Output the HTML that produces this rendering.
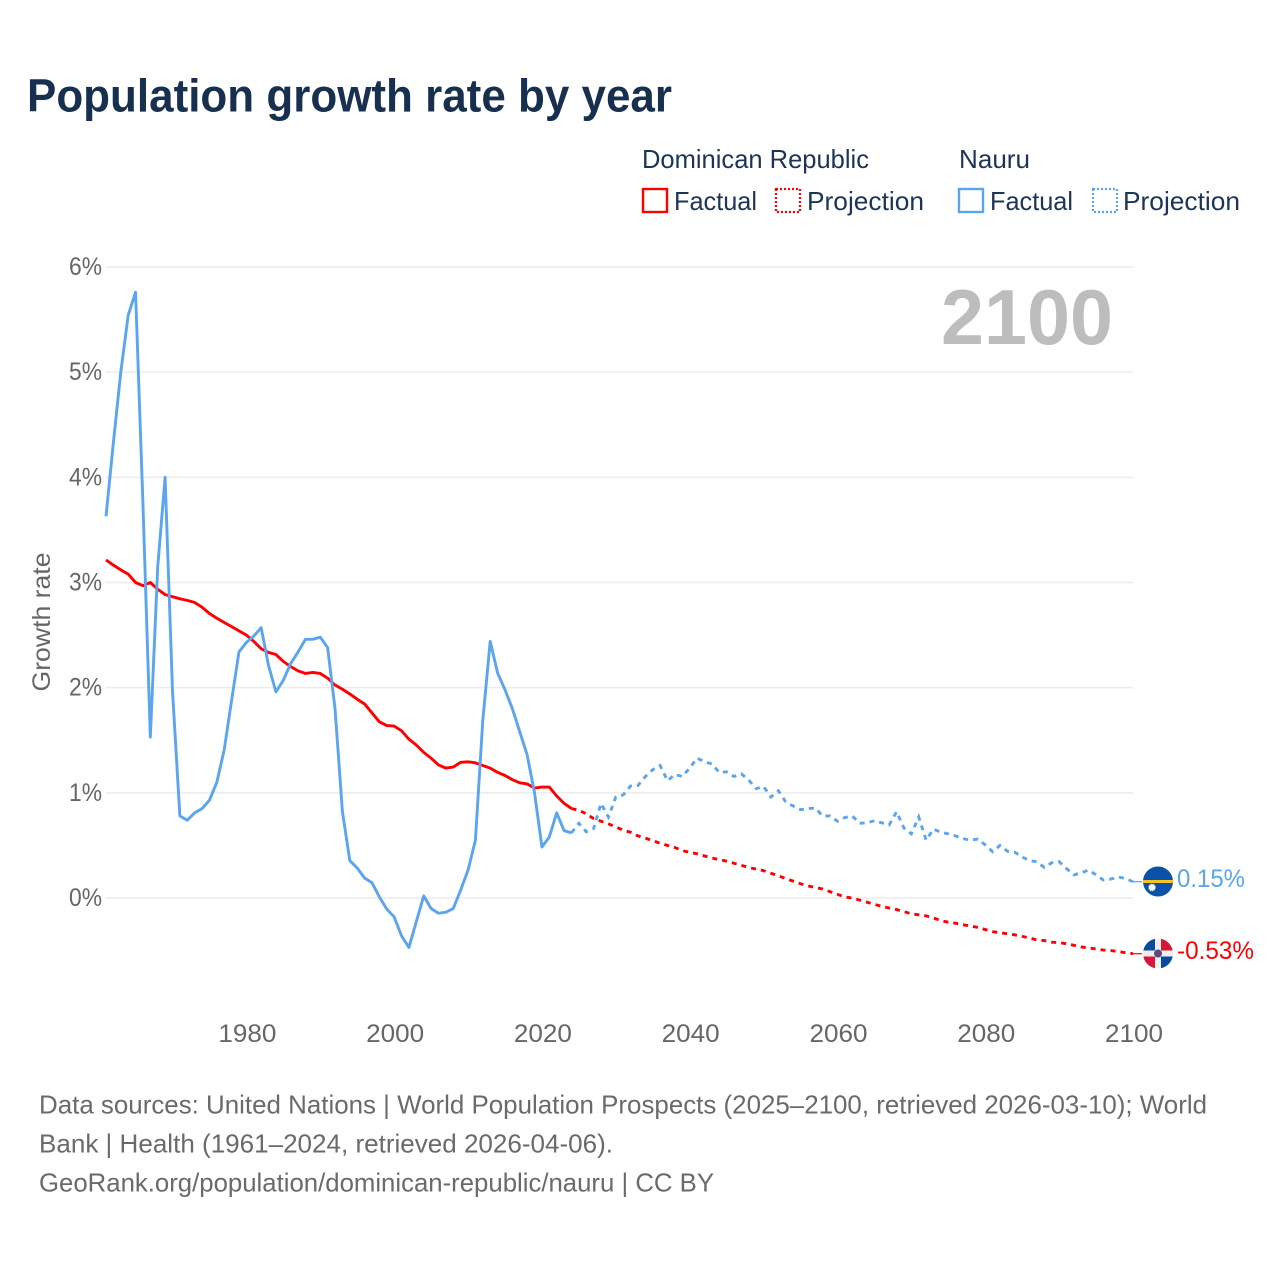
<!DOCTYPE html>
<html lang="en">
<head>
<meta charset="utf-8">
<title>Population growth rate by year</title>
<style>
html,body{margin:0;padding:0;background:#fff;}
svg{display:block;font-family:"Liberation Sans",sans-serif;}
</style>
</head>
<body>
<svg id="chart" xmlns="http://www.w3.org/2000/svg" width="1280" height="1280" viewBox="0 0 1280 1280">
  <rect x="0" y="0" width="1280" height="1280" fill="#ffffff"/>
  <text x="27" y="111.5" font-size="46" font-weight="700" fill="#18304f" textLength="645" lengthAdjust="spacingAndGlyphs">Population growth rate by year</text>

  <g font-size="26" fill="#1c3556">
    <text x="642" y="168" textLength="227" lengthAdjust="spacingAndGlyphs">Dominican Republic</text>
    <text x="959" y="168" textLength="71" lengthAdjust="spacingAndGlyphs">Nauru</text>
    <rect x="643" y="189" width="24" height="23" fill="none" stroke="#ff0000" stroke-width="2.4"/>
    <text x="674" y="210" textLength="83" lengthAdjust="spacingAndGlyphs">Factual</text>
    <rect x="776" y="189" width="24" height="23" fill="none" stroke="#ff0000" stroke-width="2.2" stroke-dasharray="2 2"/>
    <text x="807" y="210" textLength="117" lengthAdjust="spacingAndGlyphs">Projection</text>
    <rect x="959" y="189" width="24" height="23" fill="none" stroke="#5ba4ee" stroke-width="2.4"/>
    <text x="990" y="210" textLength="83" lengthAdjust="spacingAndGlyphs">Factual</text>
    <rect x="1093" y="189" width="24" height="23" fill="none" stroke="#5ba4ee" stroke-width="2.2" stroke-dasharray="2 2"/>
    <text x="1123" y="210" textLength="117" lengthAdjust="spacingAndGlyphs">Projection</text>
  </g>

  <g id="grid"></g>
  <g id="y-axis"></g>
  <g id="x-axis"></g>
  <text transform="translate(50,622) rotate(-90)" text-anchor="middle" font-size="25" fill="#666666" textLength="139" lengthAdjust="spacingAndGlyphs">Growth rate</text>
  <text x="1113" y="344" text-anchor="end" font-size="78" font-weight="700" fill="#bdbdbd" textLength="172" lengthAdjust="spacingAndGlyphs">2100</text>
  <g id="series"></g>

  <defs>
    <clipPath id="clip-nauru"><circle cx="1158" cy="881.5" r="15"/></clipPath>
    <clipPath id="clip-dr"><circle cx="1158" cy="953.5" r="15"/></clipPath>
  </defs>
  <g clip-path="url(#clip-nauru)">
    <rect x="1143" y="866" width="30" height="31" fill="#0a52a8"/>
    <rect x="1143" y="880" width="30" height="3" fill="#f6c326"/>
    <circle cx="1152" cy="887.5" r="3.2" fill="#ffffff" stroke="#ffffff" stroke-width="1.2" stroke-dasharray="1 1"/>
  </g>
  <g clip-path="url(#clip-dr)">
    <rect x="1143" y="938" width="30" height="31" fill="#eeeeee"/>
    <rect x="1143" y="938" width="12" height="12.5" fill="#0a4a9c"/>
    <rect x="1161" y="938" width="12" height="12.5" fill="#d8163c"/>
    <rect x="1143" y="956.5" width="12" height="12.5" fill="#d8163c"/>
    <rect x="1161" y="956.5" width="12" height="12.5" fill="#0a4a9c"/>
    <circle cx="1158" cy="953.5" r="3.4" fill="#8a3a5a" stroke="#2a5a9c" stroke-width="1.2"/>
  </g>
  <text id="label-nauru" x="1177" y="887" font-size="25" fill="#5ba4ee" textLength="68" lengthAdjust="spacingAndGlyphs"></text>
  <text id="label-dr" x="1177" y="959" font-size="25" fill="#ff0000" textLength="77" lengthAdjust="spacingAndGlyphs"></text>

  <g font-size="26" fill="#6a6a6a">
    <text x="39" y="1113.5" textLength="1168" lengthAdjust="spacingAndGlyphs">Data sources: United Nations | World Population Prospects (2025–2100, retrieved 2026-03-10); World</text>
    <text x="39" y="1152.5" textLength="574" lengthAdjust="spacingAndGlyphs">Bank | Health (1961–2024, retrieved 2026-04-06).</text>
    <text x="39" y="1191.5" textLength="675" lengthAdjust="spacingAndGlyphs">GeoRank.org/population/dominican-republic/nauru | CC BY</text>
  </g>
</svg>

<script>
const yTickValues = [0, 1, 2, 3, 4, 5, 6];
const xTickYears = [1980, 2000, 2020, 2040, 2060, 2080, 2100];
const factualStartYear = 1961;
const projectionStartYear = 2024;

const drFactual = [3.215,3.165,3.12,3.08,3.0,2.97,3.0,2.935,2.885,2.865,2.845,2.83,2.81,2.765,2.705,2.66,2.62,2.58,2.54,2.5,2.44,2.37,2.335,2.315,2.25,2.2,2.16,2.135,2.145,2.135,2.09,2.025,1.985,1.94,1.89,1.845,1.76,1.675,1.64,1.635,1.59,1.51,1.455,1.385,1.33,1.265,1.235,1.245,1.29,1.295,1.285,1.26,1.235,1.195,1.165,1.125,1.095,1.085,1.045,1.055,1.055,0.97,0.9,0.85];

const drProjection = [0.85,0.835,0.8,0.755,0.73,0.705,0.675,0.645,0.625,0.59,0.57,0.545,0.52,0.5,0.48,0.45,0.435,0.42,0.4,0.38,0.365,0.35,0.33,0.31,0.29,0.275,0.26,0.235,0.21,0.185,0.16,0.135,0.115,0.1,0.085,0.06,0.035,0.01,0,-0.02,-0.04,-0.06,-0.08,-0.095,-0.11,-0.13,-0.15,-0.16,-0.17,-0.19,-0.215,-0.23,-0.24,-0.255,-0.265,-0.28,-0.3,-0.32,-0.33,-0.34,-0.35,-0.365,-0.38,-0.4,-0.405,-0.42,-0.425,-0.435,-0.45,-0.465,-0.475,-0.485,-0.495,-0.5,-0.51,-0.52,-0.53];

const nauruFactual = [3.63,4.33,5.0,5.54,5.76,3.75,1.53,3.15,4.0,1.97,0.78,0.74,0.81,0.85,0.93,1.1,1.41,1.88,2.34,2.43,2.49,2.57,2.21,1.96,2.07,2.23,2.34,2.46,2.46,2.48,2.38,1.8,0.82,0.355,0.285,0.19,0.145,0.01,-0.105,-0.18,-0.36,-0.47,-0.225,0.02,-0.1,-0.145,-0.135,-0.1,0.075,0.265,0.55,1.69,2.44,2.14,1.98,1.8,1.58,1.36,1.0,0.485,0.58,0.81,0.64,0.62];

const nauruProjection = [0.62,0.71,0.63,0.66,0.9,0.77,0.96,0.98,1.065,1.07,1.155,1.22,1.26,1.115,1.175,1.155,1.235,1.33,1.295,1.275,1.195,1.2,1.155,1.18,1.12,1.04,1.06,0.96,1.02,0.915,0.875,0.84,0.85,0.855,0.78,0.78,0.73,0.765,0.78,0.71,0.715,0.735,0.715,0.695,0.82,0.665,0.61,0.77,0.55,0.655,0.625,0.61,0.59,0.565,0.55,0.56,0.505,0.44,0.5,0.445,0.435,0.39,0.355,0.345,0.29,0.335,0.345,0.28,0.22,0.24,0.265,0.22,0.17,0.18,0.2,0.185,0.155];

const nauruEndLabel = "0.15%";
const drEndLabel = "-0.53%";

const SVG_NS = "http://www.w3.org/2000/svg";
const xOf = function (year) { return 106 + (year - 1961) * (1133 - 106) / (2100 - 1961); };
const yOf = function (pct) { return 898 - pct * (898 - 267) / 6; };

function make(tag, attrs, parent) {
  const el = document.createElementNS(SVG_NS, tag);
  for (const k in attrs) { el.setAttribute(k, attrs[k]); }
  parent.appendChild(el);
  return el;
}

function linePath(values, startYear) {
  return values.map(function (v, i) {
    return (i ? "L" : "M") + xOf(startYear + i).toFixed(2) + " " + yOf(v).toFixed(2);
  }).join(" ");
}

const grid = document.getElementById("grid");
const yAxis = document.getElementById("y-axis");
yTickValues.forEach(function (v) {
  const line = make("line", {x1: 106, x2: 1133, y1: yOf(v), y2: yOf(v), stroke: "#ececec", "stroke-width": 1.5}, grid);
  
  
  const label = make("text", {x: 102, y: yOf(v) + 8, "text-anchor": "end", "font-size": 25, fill: "#666666", textLength: 33, lengthAdjust: "spacingAndGlyphs"}, yAxis);
  
  
  label.textContent = v + "%";
});

const xAxis = document.getElementById("x-axis");
xTickYears.forEach(function (year) {
  const label = make("text", {x: xOf(year) + 1, y: 1042, "text-anchor": "middle", "font-size": 25, fill: "#666666", textLength: 58, lengthAdjust: "spacingAndGlyphs"}, xAxis);
  
  
  label.textContent = year;
});

const seriesGroup = document.getElementById("series");

const drFactualLine = make("path", {d: linePath(drFactual, factualStartYear), fill: "none", stroke: "#ff0000", "stroke-width": 2.9, "stroke-linejoin": "round"}, seriesGroup);



const drProjectionLine = make("path", {d: linePath(drProjection, projectionStartYear), fill: "none", stroke: "#ff0000", "stroke-width": 2.9, "stroke-dasharray": "5 5"}, seriesGroup);



const nauruFactualLine = make("path", {d: linePath(nauruFactual, factualStartYear), fill: "none", stroke: "#5ba4ee", "stroke-width": 2.9, "stroke-linejoin": "round"}, seriesGroup);



const nauruProjectionLine = make("path", {d: linePath(nauruProjection, projectionStartYear), fill: "none", stroke: "#5ba4ee", "stroke-width": 2.9, "stroke-dasharray": "5 5"}, seriesGroup);



const nauruEndY = yOf(nauruProjection[nauruProjection.length - 1]);
const drEndY = yOf(drProjection[drProjection.length - 1]);

const nauruConnector = make("line", {x1: 1133, x2: 1142, y1: nauruEndY, y2: nauruEndY, stroke: "#5ba4ee", "stroke-width": 1.2}, seriesGroup);



const drConnector = make("line", {x1: 1133, x2: 1142, y1: drEndY, y2: drEndY, stroke: "#ff0000", "stroke-width": 1.2}, seriesGroup);



document.getElementById("label-nauru").textContent = nauruEndLabel;
document.getElementById("label-dr").textContent = drEndLabel;
</script>
</body>
</html>
